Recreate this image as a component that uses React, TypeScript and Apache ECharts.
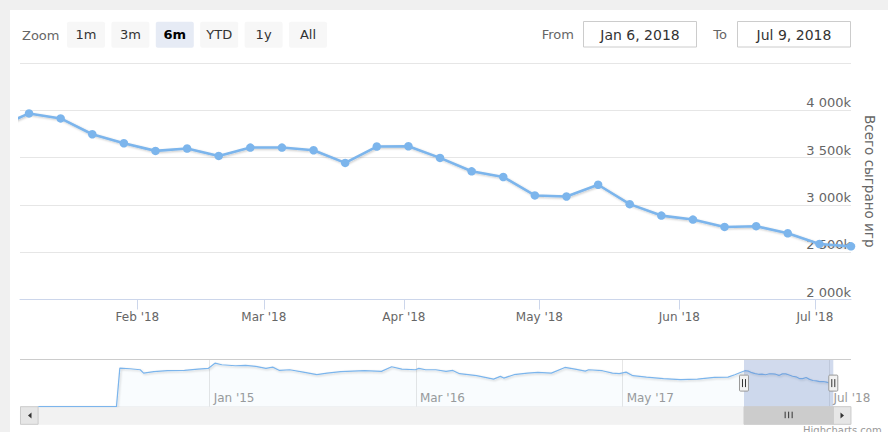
import React, { useEffect, useRef } from "react";
import * as echarts from "echarts";

const FONT = '"DejaVu Sans", Verdana, sans-serif';

// ---- Main chart data (weekly, thousands of games played) ----
const recentDates = [
  "2018-01-01", "2018-01-08", "2018-01-15", "2018-01-22", "2018-01-29",
  "2018-02-05", "2018-02-12", "2018-02-19", "2018-02-26", "2018-03-05",
  "2018-03-12", "2018-03-19", "2018-03-26", "2018-04-02", "2018-04-09",
  "2018-04-16", "2018-04-23", "2018-04-30", "2018-05-07", "2018-05-14",
  "2018-05-21", "2018-05-28", "2018-06-04", "2018-06-11", "2018-06-18",
  "2018-06-25", "2018-07-02", "2018-07-09",
];
const recentValues = [
  3820, 3967, 3914, 3747, 3652,
  3571, 3596, 3518, 3606, 3606,
  3578, 3444, 3617, 3620, 3497,
  3355, 3295, 3100, 3089, 3213,
  3008, 2887, 2845, 2767, 2775,
  2700, 2587, 2562,
];

// ---- Navigator history (read from the navigator strip) ----
const historyDates = [
  "2014-01-13", "2014-06-23", "2014-06-30", "2014-07-21", "2014-08-11",
  "2014-08-18", "2014-09-08", "2014-10-06", "2014-11-10", "2014-12-08",
  "2014-12-29", "2015-01-12", "2015-01-26", "2015-02-23", "2015-03-16",
  "2015-04-06", "2015-04-27", "2015-05-11", "2015-05-25", "2015-06-15",
  "2015-07-13", "2015-08-10", "2015-08-31", "2015-09-28", "2015-11-16",
  "2015-12-21", "2016-01-11", "2016-02-01", "2016-02-29", "2016-03-07",
  "2016-03-21", "2016-04-11", "2016-05-02", "2016-05-16", "2016-05-30",
  "2016-07-04", "2016-08-08", "2016-08-22", "2016-08-29", "2016-09-19",
  "2016-10-17", "2016-11-07", "2016-12-05", "2017-01-02", "2017-01-23",
  "2017-02-13", "2017-02-20", "2017-03-20", "2017-04-10", "2017-04-24",
  "2017-05-08", "2017-05-22", "2017-06-19", "2017-07-24", "2017-08-28",
  "2017-10-02", "2017-11-06", "2017-12-04", "2017-12-18",
];
const historyValues = [
  0, 0, 4249, 4183, 4073,
  3701, 3854, 3964, 3997, 4139,
  4216, 4796, 4621, 4511, 4544,
  4435, 4216, 4358, 3997, 4073,
  3811, 3526, 3701, 3854, 3964,
  3887, 4402, 4139, 4073, 4216,
  4073, 4073, 3887, 3997, 3635,
  3416, 3044, 3340, 3154, 3526,
  3701, 3778, 3701, 4325, 4139,
  3920, 4073, 3964, 3701, 3635,
  3811, 3416, 3263, 3088, 2978,
  3044, 3230, 3263, 3526,
];

const monthTicks = ["2018-02-01", "2018-03-01", "2018-04-01", "2018-05-01", "2018-06-01", "2018-07-01"];
const navTicks = ["2015-01-01", "2016-03-01", "2017-05-01", "2018-07-01"];
const viewRange = ["2018-01-06", "2018-07-09"];
const navRange = ["2014-01-13", "2018-07-09"];
const yRange = [2000, 4500];
const yStep = 500;
const navYMax = 5200;

const zoomButtons = ["1m", "3m", "6m", "YTD", "1y", "All"];
const selectedButton = "6m";
const fromText = "Jan 6, 2018";
const toText = "Jul 9, 2018";
const axisTitle = "Всего сыграно игр";
const MONTHS = ["Jan", "Feb", "Mar", "Apr", "May", "Jun", "Jul", "Aug", "Sep", "Oct", "Nov", "Dec"];

const t = (s: string) => {
  const [y, m, d] = s.split("-").map(Number);
  return new Date(y, m - 1, d).getTime();
};
const fmtMonth = (v: number) => {
  const d = new Date(v);
  return `${MONTHS[d.getMonth()]} '${String(d.getFullYear()).slice(2)}`;
};
const fmtK = (v: number) => String(v).replace(/\B(?=(\d{3})+(?!\d))/g, " ") + "k";

export default function App() {
  const ref = useRef<HTMLDivElement>(null);

  useEffect(() => {
    document.body.style.margin = "0";
    if (!ref.current) return;
    const chart = echarts.init(ref.current, undefined, { renderer: "svg" });

    const mainData = recentDates.map((d, i) => [t(d), recentValues[i]]);
    const navData = historyDates
      .map((d, i) => [t(d), historyValues[i]])
      .concat(mainData);

    const graphics: any[] = [
      { type: "rect", shape: { x: 0, y: 0, width: 888, height: 10 }, style: { fill: "#f0f0f0" } },
      { type: "rect", shape: { x: 0, y: 0, width: 10, height: 432 }, style: { fill: "#f0f0f0" } },
      {
        type: "text", x: 22, y: 35,
        style: { text: "Zoom", fill: "#666666", font: `13px ${FONT}`, textAlign: "left", textVerticalAlign: "middle" },
      },
    ];
    zoomButtons.forEach((b, i) => {
      const x = 67 + i * 44.4;
      const sel = b === selectedButton;
      graphics.push({
        type: "rect",
        shape: { x, y: 21.7, width: 38, height: 26, r: 2 },
        style: { fill: sel ? "#e6ebf5" : "#f7f7f7" },
      });
      graphics.push({
        type: "text", x: x + 19, y: 34.5,
        style: {
          text: b, fill: sel ? "#000000" : "#333333",
          font: `${sel ? "bold " : ""}13px ${FONT}`,
          textAlign: "center", textVerticalAlign: "middle",
        },
      });
    });
    graphics.push(
      { type: "text", x: 574, y: 34.5, style: { text: "From", fill: "#666666", font: `13px ${FONT}`, textAlign: "right", textVerticalAlign: "middle" } },
      { type: "rect", shape: { x: 583.5, y: 21.5, width: 113, height: 25.5 }, style: { fill: "#ffffff", stroke: "#cccccc", lineWidth: 1 } },
      { type: "text", x: 640, y: 34.5, style: { text: fromText, fill: "#333333", font: `14px ${FONT}`, textAlign: "center", textVerticalAlign: "middle" } },
      { type: "text", x: 727, y: 34.5, style: { text: "To", fill: "#666666", font: `13px ${FONT}`, textAlign: "right", textVerticalAlign: "middle" } },
      { type: "rect", shape: { x: 737.5, y: 21.5, width: 113, height: 25.5 }, style: { fill: "#ffffff", stroke: "#cccccc", lineWidth: 1 } },
      { type: "text", x: 794, y: 34.5, style: { text: toText, fill: "#333333", font: `14px ${FONT}`, textAlign: "center", textVerticalAlign: "middle" } },
      // navigator outline
      { type: "line", shape: { x1: 20, y1: 359.5, x2: 851, y2: 359.5 }, style: { stroke: "#cccccc", lineWidth: 1 }, z: 5 },
      // scrollbar track and buttons
      { type: "rect", shape: { x: 20.5, y: 406.7, width: 830.5, height: 17.6 }, style: { fill: "#f2f2f2", stroke: "#f2f2f2" } },
      { type: "rect", shape: { x: 20.5, y: 406.7, width: 17.6, height: 17.6 }, style: { fill: "#e6e6e6", stroke: "#cccccc", lineWidth: 1 } },
      { type: "polygon", shape: { points: [[31.5, 412.5], [31.5, 418.5], [28, 415.5]] }, style: { fill: "#333333" } },
      { type: "rect", shape: { x: 833.3, y: 406.7, width: 17.6, height: 17.6 }, style: { fill: "#e6e6e6", stroke: "#cccccc", lineWidth: 1 } },
      { type: "polygon", shape: { points: [[840.5, 412.5], [840.5, 418.5], [844, 415.5]] }, style: { fill: "#333333" } },
      // credits
      { type: "text", x: 803, y: 425, style: { text: "Highcharts.com", fill: "#999999", font: `10px ${FONT}`, textAlign: "left", textVerticalAlign: "top" } },
    );

    chart.setOption({
      animation: false,
      backgroundColor: "#ffffff",
      textStyle: { fontFamily: FONT },
      grid: [
        { left: 20, top: 63, width: 831, height: 236.5 },
        { left: 38.3, top: 359.5, width: 795, height: 47.2 },
      ],
      xAxis: [
        {
          gridIndex: 0,
          type: "value",
          min: t(viewRange[0]),
          max: t(viewRange[1]),
          axisLine: { lineStyle: { color: "#ccd6eb", width: 1 } },
          axisTick: { show: true, length: 10, customValues: monthTicks.map(t), lineStyle: { color: "#ccd6eb" } },
          axisLabel: {
            customValues: monthTicks.map(t),
            formatter: (v: number) => fmtMonth(v),
            color: "#666666",
            fontSize: 12,
            fontFamily: FONT,
            margin: 11,
          },
          splitLine: { show: false },
        },
        {
          gridIndex: 1,
          type: "value",
          min: t(navRange[0]),
          max: t(navRange[1]),
          axisLine: { show: false },
          axisTick: { show: true, inside: true, length: 47.2, customValues: navTicks.map(t), lineStyle: { color: "#e6e6e6" } },
          axisLabel: {
            inside: true,
            customValues: navTicks.map(t),
            formatter: (v: number) => fmtMonth(v),
            color: "#999999",
            fontSize: 12,
            fontFamily: FONT,
            align: "left",
            padding: [0, 0, 0, 4],
            margin: 3,
          },
          splitLine: { show: false },
        },
      ],
      yAxis: [
        {
          gridIndex: 0,
          type: "value",
          position: "right",
          min: yRange[0],
          max: yRange[1],
          interval: yStep,
          axisLine: { show: false },
          axisTick: { show: false },
          splitLine: { lineStyle: { color: "#e6e6e6", width: 1 } },
          axisLabel: {
            inside: true,
            margin: 0,
            verticalAlign: "bottom",
            padding: [0, 0, 1, 0],
            showMaxLabel: false,
            formatter: (v: number) => fmtK(v),
            color: "#666666",
            fontSize: 13,
            fontFamily: FONT,
          },
          name: axisTitle,
          nameLocation: "middle",
          nameRotate: -90,
          nameGap: 12,
          nameTextStyle: { color: "#666666", fontSize: 13.5, fontFamily: FONT },
        },
        { gridIndex: 1, type: "value", min: 0, max: navYMax, show: false },
      ],
      series: [
        {
          type: "line",
          xAxisIndex: 0,
          yAxisIndex: 0,
          data: mainData,
          symbol: "circle",
          symbolSize: 8.5,
          showAllSymbol: true,
          clip: true,
          itemStyle: { color: "#7cb5ec" },
          lineStyle: {
            color: "#7cb5ec", width: 2.6,
            shadowColor: "rgba(0,0,0,0.22)", shadowBlur: 2, shadowOffsetX: 1, shadowOffsetY: 1,
          },
          z: 3,
        },
        {
          type: "line",
          xAxisIndex: 1,
          yAxisIndex: 1,
          data: navData,
          showSymbol: false,
          silent: true,
          lineStyle: {
            color: "#7cb5ec", width: 1.2,
            shadowColor: "rgba(0,0,0,0.2)", shadowBlur: 2, shadowOffsetX: 1, shadowOffsetY: 1,
          },
          areaStyle: { color: "rgba(124,181,236,0.07)" },
          z: 2,
        },
        {
          type: "custom",
          xAxisIndex: 1,
          yAxisIndex: 1,
          data: [[t(viewRange[0]), t(viewRange[1])]],
          encode: { x: [0, 1] },
          silent: true,
          z: 4,
          renderItem: (params: any, api: any) => {
            const x0 = api.coord([api.value(0), 0])[0];
            const x1 = api.coord([api.value(1), 0])[0];
            const cs = params.coordSys;
            const top = cs.y;
            const h = cs.height;
            const bottom = top + h;
            const mid = top + h / 2;
            const cx = (x0 + x1) / 2;
            const handle = (x: number) => ({
              type: "group",
              children: [
                { type: "rect", shape: { x: x - 4.5, y: mid - 8, width: 9, height: 16, r: 1 }, style: { fill: "#f2f2f2", stroke: "#999999", lineWidth: 1 } },
                { type: "line", shape: { x1: x - 1.5, y1: mid - 4, x2: x - 1.5, y2: mid + 4 }, style: { stroke: "#333333", lineWidth: 1 } },
                { type: "line", shape: { x1: x + 1.5, y1: mid - 4, x2: x + 1.5, y2: mid + 4 }, style: { stroke: "#333333", lineWidth: 1 } },
              ],
            });
            const grip = [-3.5, 0, 3.5].map((d) => ({
              type: "line",
              shape: { x1: cx + d, y1: bottom + 5, x2: cx + d, y2: bottom + 11.5 },
              style: { stroke: "#333333", lineWidth: 1 },
            }));
            return {
              type: "group",
              children: [
                { type: "rect", shape: { x: x0, y: top, width: x1 - x0, height: h }, style: { fill: "rgba(102,133,194,0.3)" } },
                { type: "rect", shape: { x: x0, y: bottom, width: x1 - x0, height: 17.6 }, style: { fill: "#cccccc", stroke: "#cccccc", lineWidth: 1 } },
                ...grip,
                handle(x0),
                handle(x1),
              ],
            };
          },
        },
      ],
      graphic: graphics,
    });

    return () => chart.dispose();
  }, []);

  return <div ref={ref} style={{ width: 888, height: 432 }} />;
}
